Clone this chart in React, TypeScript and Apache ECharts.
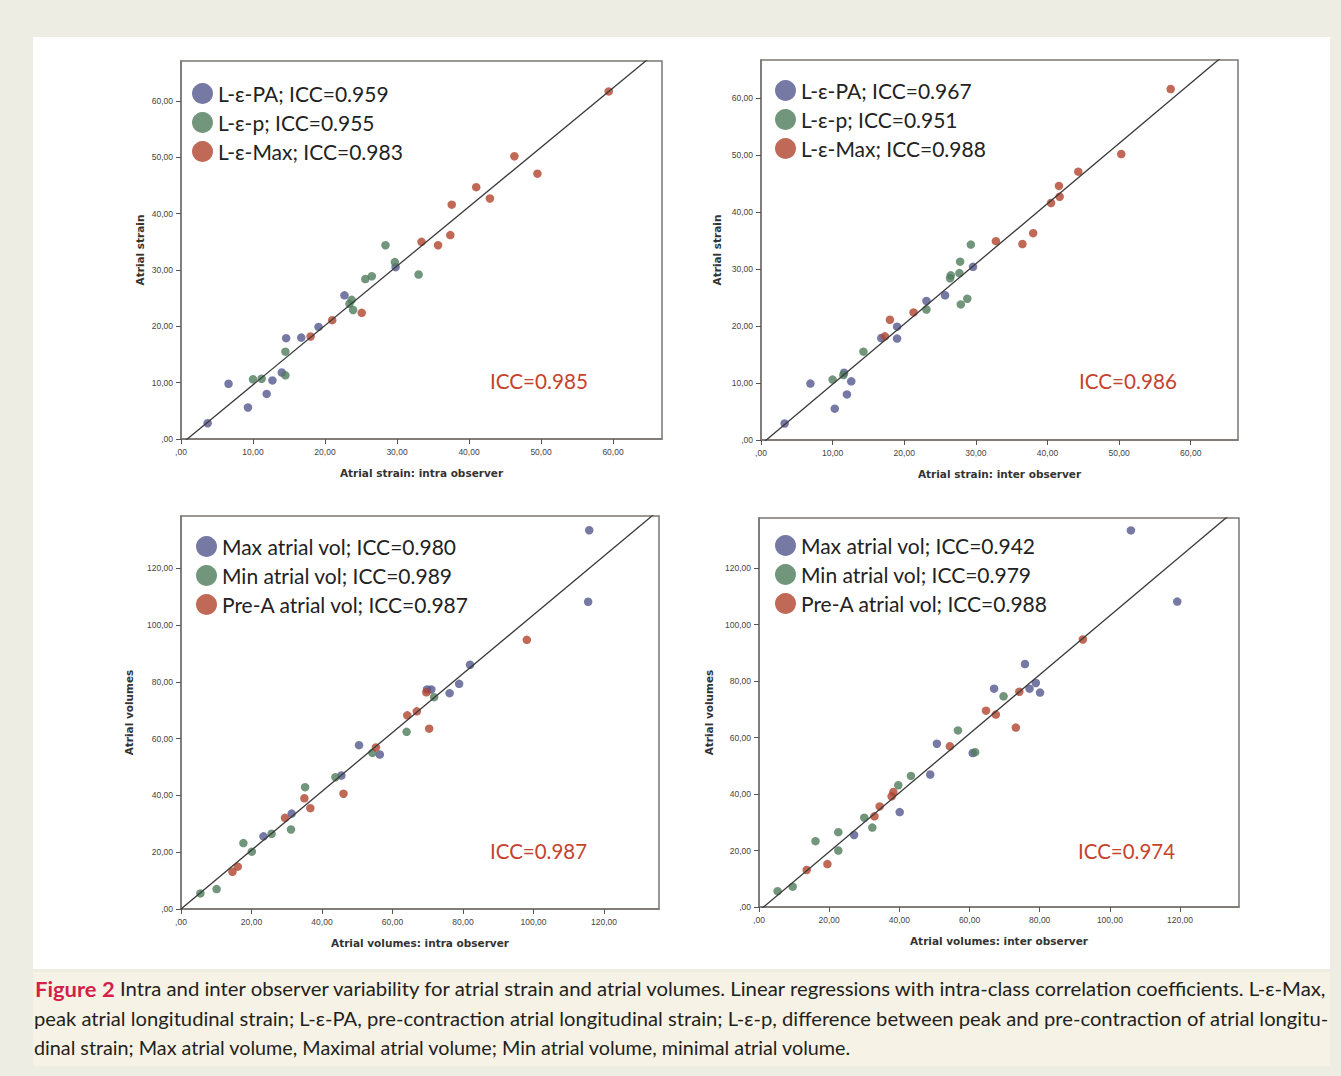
import React, { useEffect, useRef } from "react";
import * as echarts from "echarts";

const W = 1341;
const H = 1076;

// ---------- tick values ----------
const strainTicks = [0, 10, 20, 30, 40, 50, 60];
const volumeTicks = [0, 20, 40, 60, 80, 100, 120];

// ---------- Panel 1: atrial strain, intra observer ----------
const p1Names = ["L-ε-PA; ICC=0.959", "L-ε-p; ICC=0.955", "L-ε-Max; ICC=0.983"];
const p1PA = [[3.7, 2.8], [6.6, 9.8], [9.3, 5.6], [11.9, 8.0], [12.7, 10.4], [14.0, 11.8], [14.6, 17.9], [16.7, 18.0], [19.1, 19.9], [22.7, 25.5], [29.8, 30.5]];
const p1P = [[10.0, 10.6], [11.2, 10.7], [14.5, 11.3], [14.5, 15.5], [23.4, 24.0], [23.7, 24.7], [23.9, 22.9], [25.6, 28.4], [26.5, 28.9], [28.4, 34.4], [29.7, 31.4], [33.0, 29.2]];
const p1Max = [[18.0, 18.2], [21.0, 21.1], [25.1, 22.4], [33.4, 35.0], [35.7, 34.4], [37.4, 36.2], [37.6, 41.6], [41.0, 44.7], [42.9, 42.7], [46.3, 50.2], [49.5, 47.1], [59.4, 61.7]];

// ---------- Panel 2: atrial strain, inter observer ----------
const p2Names = ["L-ε-PA; ICC=0.967", "L-ε-p; ICC=0.951", "L-ε-Max; ICC=0.988"];
const p2PA = [[3.3, 2.9], [6.9, 9.9], [10.3, 5.5], [11.6, 11.8], [12.0, 8.0], [12.6, 10.3], [16.8, 17.9], [19.0, 17.8], [19.0, 19.9], [23.1, 24.4], [25.7, 25.4], [29.6, 30.4]];
const p2P = [[10.0, 10.6], [11.5, 11.4], [14.3, 15.5], [23.1, 22.9], [26.4, 28.4], [26.5, 28.9], [27.8, 31.3], [27.7, 29.3], [27.9, 23.8], [28.8, 24.8], [29.3, 34.3]];
const p2Max = [[17.3, 18.2], [18.0, 21.1], [21.3, 22.4], [32.8, 34.9], [36.5, 34.4], [38.0, 36.3], [40.5, 41.6], [41.6, 44.6], [41.7, 42.7], [44.3, 47.1], [50.3, 50.2], [57.2, 61.6]];

// ---------- Panel 3: atrial volumes, intra observer ----------
const p3Names = ["Max atrial vol; ICC=0.980", "Min atrial vol; ICC=0.989", "Pre-A atrial vol; ICC=0.987"];
const p3Max = [[23.4, 25.6], [31.4, 33.6], [45.5, 47.0], [50.5, 57.7], [56.4, 54.4], [69.8, 77.3], [71.0, 77.3], [76.2, 76.0], [78.9, 79.3], [82.0, 86.0], [115.5, 108.2], [115.8, 133.4]];
const p3Min = [[5.5, 5.5], [10.1, 7.0], [17.7, 23.2], [20.1, 20.2], [25.7, 26.5], [31.2, 28.0], [35.2, 42.9], [43.8, 46.4], [54.3, 55.0], [64.0, 62.4], [71.8, 74.6]];
const p3PreA = [[14.6, 13.1], [16.1, 14.9], [29.5, 32.1], [35.0, 39.0], [36.7, 35.5], [46.1, 40.6], [55.3, 56.9], [64.2, 68.2], [66.9, 69.6], [69.6, 76.3], [70.4, 63.5], [98.1, 94.8]];

// ---------- Panel 4: atrial volumes, inter observer ----------
const p4Names = ["Max atrial vol; ICC=0.942", "Min atrial vol; ICC=0.979", "Pre-A atrial vol; ICC=0.988"];
const p4Max = [[27.1, 25.5], [40.1, 33.6], [48.8, 46.9], [50.7, 57.8], [60.9, 54.5], [67.0, 77.3], [75.8, 86.0], [77.1, 77.3], [78.9, 79.3], [80.1, 75.9], [106.0, 133.3], [119.2, 108.1]];
const p4Min = [[5.3, 5.6], [9.6, 7.2], [16.1, 23.3], [22.6, 26.5], [22.6, 20.0], [30.0, 31.6], [32.3, 28.1], [39.7, 43.1], [43.3, 46.4], [56.7, 62.5], [61.6, 54.8], [69.7, 74.6]];
const p4PreA = [[13.6, 13.1], [19.5, 15.2], [32.9, 32.1], [34.4, 35.6], [37.8, 39.2], [38.3, 40.7], [54.4, 56.9], [64.7, 69.5], [67.5, 68.1], [73.2, 63.5], [74.2, 76.2], [92.3, 94.7]];

// overall ICC per panel and regression line [intercept, slope]
const overallICC = ["ICC=0.985", "ICC=0.986", "ICC=0.987", "ICC=0.974"];
const fitLines = [[-0.92, 1.054], [-0.78, 1.057], [0.0, 1.036], [-1.36, 1.045]];

const xTitles = ["Atrial strain: intra observer", "Atrial strain: inter observer", "Atrial volumes: intra observer", "Atrial volumes: inter observer"];
const yTitles = ["Atrial strain", "Atrial strain", "Atrial volumes", "Atrial volumes"];

const captionFigure = "Figure 2";
const captionLines = [
  " Intra and inter observer variability for atrial strain and atrial volumes. Linear regressions with intra-class correlation coefficients. L-ε-Max,",
  "peak atrial longitudinal strain; L-ε-PA, pre-contraction atrial longitudinal strain; L-ε-p, difference between peak and pre-contraction of atrial longitu-",
  "dinal strain; Max atrial volume, Maximal atrial volume; Min atrial volume, minimal atrial volume.",
];

const COLORS = ["#55578f", "#4f7c5b", "#b0442d"];
const ICC_RED = "#c4432e";

const fmt = (v: number) => (v === 0 ? ",00" : v.toFixed(2).replace(".", ","));

export default function App() {
  const ref = useRef<HTMLDivElement>(null);

  useEffect(() => {
    const el = ref.current!;
    const chart = echarts.init(el, null, { renderer: "svg", width: W, height: H });

    const ctx = document.createElement("canvas").getContext("2d")!;
    const measure = (t: string, font: string) => {
      ctx.font = font;
      return ctx.measureText(t).width;
    };

    const panels = [
      { grid: { left: 181, top: 61, width: 481, height: 378 }, xMax: 66.8, yMax: 67.1, ticks: strainTicks, names: p1Names, data: [p1PA, p1P, p1Max], yGap: 36, legend: { left: 192, top: 83 }, icc: { x: 490, y: 381, w: 98 } },
      { grid: { left: 761, top: 60, width: 477, height: 380 }, xMax: 66.6, yMax: 66.7, ticks: strainTicks, names: p2Names, data: [p2PA, p2P, p2Max], yGap: 39, legend: { left: 775, top: 80 }, icc: { x: 1079, y: 381, w: 98 } },
      { grid: { left: 181, top: 516, width: 478, height: 393 }, xMax: 135.6, yMax: 138.4, ticks: volumeTicks, names: p3Names, data: [p3Max, p3Min, p3PreA], yGap: 47, legend: { left: 196, top: 536 }, icc: { x: 490, y: 851, w: 97 } },
      { grid: { left: 759, top: 518, width: 480, height: 389 }, xMax: 136.8, yMax: 137.7, ticks: volumeTicks, names: p4Names, data: [p4Max, p4Min, p4PreA], yGap: 45, legend: { left: 775, top: 535 }, icc: { x: 1078, y: 851, w: 97 } },
    ];

    const axisCommon = (ticks: number[], max: number) => ({
      type: "value",
      min: 0,
      max,
      splitLine: { show: false },
      axisLine: { show: true, lineStyle: { color: "#7b7570", width: 1.5 } },
      axisTick: { show: true, inside: false, length: 5, lineStyle: { color: "#555", width: 1 }, customValues: ticks },
      axisLabel: {
        customValues: ticks,
        formatter: (v: number) => (ticks.indexOf(Math.round(v * 100) / 100) >= 0 ? fmt(v) : ""),
        fontFamily: "Liberation Sans",
        fontSize: 8.5,
        color: "#444",
        margin: 8,
      },
      nameLocation: "middle",
      nameTextStyle: { fontFamily: "DejaVu Sans", fontWeight: "bold", fontSize: 10.5, color: "#333" },
    });

    const grids: any[] = [];
    const xAxes: any[] = [];
    const yAxes: any[] = [];
    const series: any[] = [];
    const legends: any[] = [];
    const graphics: any[] = [];

    // backgrounds
    graphics.push({ type: "rect", z: -100, shape: { x: 33, y: 37, width: 1297, height: 932 }, style: { fill: "#ffffff" }, silent: true });
    graphics.push({ type: "rect", z: -100, shape: { x: 33, y: 972, width: 1297, height: 94 }, style: { fill: "#f6f3e6" }, silent: true });

    panels.forEach((p, i) => {
      grids.push({ ...p.grid, show: true, borderColor: "#7b7570", borderWidth: 1.5, backgroundColor: "transparent" });
      xAxes.push({ ...axisCommon(p.ticks, p.xMax), gridIndex: i, name: xTitles[i], nameGap: 28 });
      yAxes.push({ ...axisCommon(p.ticks, p.yMax), gridIndex: i, name: yTitles[i], nameGap: p.yGap });

      p.data.forEach((d, k) => {
        series.push({
          type: "scatter",
          name: p.names[k],
          xAxisIndex: i,
          yAxisIndex: i,
          data: d,
          symbol: "circle",
          symbolSize: 8.5,
          itemStyle: { color: COLORS[k] },
          z: 2,
        });
      });

      const [a, b] = fitLines[i];
      series.push({
        type: "line",
        xAxisIndex: i,
        yAxisIndex: i,
        data: [[0, a], [p.xMax, a + b * p.xMax]],
        symbol: "none",
        clip: true,
        silent: true,
        lineStyle: { color: "#3a3a3a", width: 1.3 },
        z: 3,
      });

      legends.push({
        orient: "vertical",
        left: p.legend.left,
        top: p.legend.top,
        padding: 0,
        itemWidth: 21,
        itemHeight: 21,
        itemGap: 8,
        icon: "circle",
        selectedMode: false,
        data: p.names,
        textStyle: { fontFamily: "Lato", fontSize: 21, color: "#222", lineHeight: 21 },
      });

      const iccFont = "22px Lato";
      const iw = measure(overallICC[i], iccFont);
      graphics.push({
        type: "text",
        x: p.icc.x,
        y: p.icc.y,
        scaleX: p.icc.w / iw,
        style: { text: overallICC[i], fill: ICC_RED, fontFamily: "Lato", fontSize: 22, verticalAlign: "middle", align: "left" },
        silent: true,
      });
    });

    // caption
    const capFont = "18.5px Lato";
    const figFont = "bold 20px Lato";
    const capY = [989, 1019, 1048];
    const capTargets = [1295, 1296, 819];
    captionLines.forEach((line, i) => {
      let natural = measure(line, capFont);
      if (i === 0) natural += measure(captionFigure, figFont);
      const sx = capTargets[i] / natural;
      graphics.push({
        type: "text",
        x: i === 0 ? 35 : 34,
        y: capY[i],
        scaleX: sx,
        style: {
          text: i === 0 ? `{f|${captionFigure}}${line}` : line,
          fill: "#231f20",
          fontFamily: "Lato",
          fontSize: 18.5,
          verticalAlign: "middle",
          align: "left",
          rich: i === 0 ? { f: { fontFamily: "Lato", fontWeight: "bold", fontSize: 20, fill: "#d41f4b" } } : undefined,
        },
        silent: true,
      });
    });

    chart.setOption({
      animation: false,
      backgroundColor: "#eeede4",
      textStyle: { fontFamily: "Lato" },
      grid: grids,
      xAxis: xAxes,
      yAxis: yAxes,
      legend: legends,
      series,
      graphic: { elements: graphics },
    });

    return () => chart.dispose();
  }, []);

  return <div ref={ref} style={{ position: "absolute", left: 0, top: 0, width: W, height: H }} />;
}
